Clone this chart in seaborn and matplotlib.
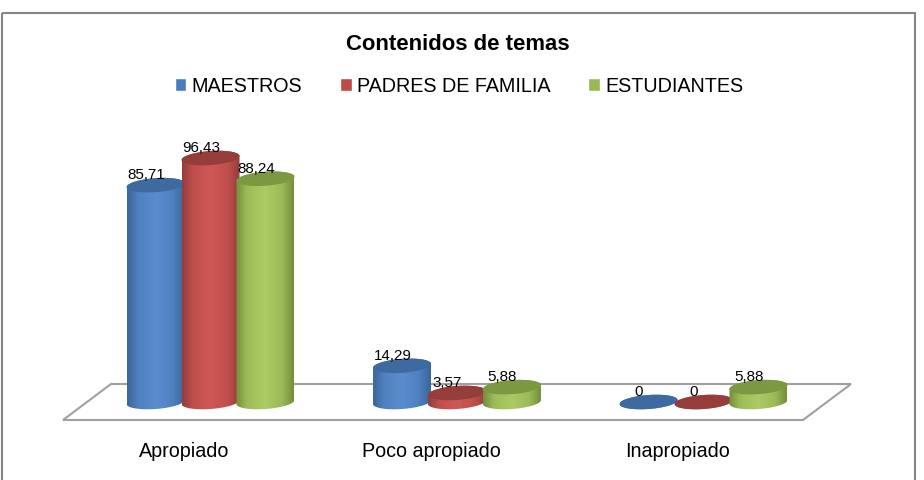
import numpy as np
import pandas as pd
import matplotlib
matplotlib.use("Agg")
import matplotlib.pyplot as plt
import seaborn as sns
from matplotlib.colors import LinearSegmentedColormap
from matplotlib.patches import Polygon
from matplotlib.transforms import ScaledTranslation

# Datos
categorias = ["Apropiado", "Poco apropiado", "Inapropiado"]
grupos = ["MAESTROS", "PADRES DE FAMILIA", "ESTUDIANTES"]
maestros = [85.71, 14.29, 0]
padres = [96.43, 3.57, 0]
estudiantes = [88.24, 5.88, 5.88]

# Colores: leyenda, cuerpo claro, cuerpo medio, borde oscuro, tapa
leyenda = ["#4a7ebb", "#be4b48", "#98b954"]
claros = ["#5b8ccf", "#cf5855", "#abcc62"]
medios = ["#4f80bf", "#bf4f4c", "#9bbb59"]
oscuros = ["#3a6699", "#933e3c", "#758f3d"]
tapas = ["#3e6a9f", "#953d3b", "#7c9840"]

W, H = 924, 480
PX_CAT = 246.5  # px por categoria
PX_VAL = 2.53  # px por unidad de valor
BASE_Y = 402
CENTRO_X = 210.5

df = pd.DataFrame({
    "categoria": categorias * 3,
    "grupo": np.repeat(grupos, 3),
    "valor": maestros + padres + estudiantes,
})

sns.set_theme(style="white")
plt.rcParams["font.family"] = ["Liberation Sans", "DejaVu Sans"]

fig = plt.figure(figsize=(W / 100, H / 100), dpi=100, facecolor="white")
ax = fig.add_axes([0, 1 - 421 / H, 1, 321 / H])
ax.patch.set_alpha(0)

sns.barplot(data=df, x="categoria", y="valor", hue="grupo", palette=leyenda,
            width=0.669, gap=0, saturation=1, ax=ax)


def a_fig(puntos):
    return [(x / W, 1 - y / H) for x, y in puntos]


# Marco y piso
fig.add_artist(Polygon(a_fig([(2, 13), (915, 13), (915, 483), (2, 483)]), closed=True,
                       transform=fig.transFigure, fill=False, ec="#858585", lw=1.5, zorder=-2))
fig.add_artist(Polygon(a_fig([(63, 420), (111, 384), (851, 384), (803, 420)]), closed=True,
                       transform=fig.transFigure, fc="white", ec="#a0a0a0", lw=1.5, zorder=-1))

a = 29 / PX_CAT
b = 7 / PX_VAL
incl = 2 / PX_VAL
orden = 3
for i, cont in enumerate(ax.containers):
    cmap = LinearSegmentedColormap.from_list(
        "cil", [(0, oscuros[i]), (0.18, medios[i]), (0.5, claros[i]), (0.8, medios[i]), (1, oscuros[i])])
    for barra in cont:
        cx = barra.get_x() + barra.get_width() / 2
        alto = barra.get_height()
        t1 = np.linspace(0, np.pi, 60)
        t2 = np.linspace(np.pi, 2 * np.pi, 60)
        xs = np.r_[cx + a * np.cos(t1), cx + a * np.cos(t2)]
        ys = np.r_[alto + b * np.sin(t1) + incl * np.cos(t1), b * np.sin(t2) + incl * np.cos(t2)]
        cuerpo = Polygon(np.c_[xs, ys], closed=True, fc="none", ec="none", transform=ax.transData)
        ax.add_patch(cuerpo)
        barra.set_clip_path(cuerpo)
        img = ax.imshow(np.linspace(0, 1, 64)[None, :], cmap=cmap, aspect="auto",
                        extent=(cx - a, cx + a, -b - incl, alto + b + incl), zorder=orden)
        img.set_clip_path(cuerpo)
        t = np.linspace(0, 2 * np.pi, 120)
        tapa = Polygon(np.c_[cx + a * np.cos(t), alto + b * np.sin(t) + incl * np.cos(t)], closed=True,
                       fc=tapas[i], ec="none", zorder=orden + 0.5)
        ax.add_patch(tapa)
        ax.annotate(f"{alto:.2f}".replace(".", ",") if alto else "0", (cx, alto), xytext=(-9.5 * 0.72, 10 * 0.72),
                    textcoords="offset points", ha="center", va="center", fontsize=10.9,
                    color="black", zorder=10, annotation_clip=False)
    orden += 1

ax.set_xlim(-CENTRO_X / PX_CAT, (W - CENTRO_X) / PX_CAT)
ax.set_ylim((BASE_Y - 421) / PX_VAL, (BASE_Y - 100) / PX_VAL)
ax.set_xlabel("")
ax.set_ylabel("")
ax.set_yticks([])
ax.tick_params(axis="x", length=0, pad=15, labelsize=14.2, colors="black")
# las etiquetas van corridas a la izquierda por la perspectiva del piso
corrimiento = ScaledTranslation(-26 / 100, 0, fig.dpi_scale_trans)
for etiqueta in ax.get_xticklabels():
    etiqueta.set_transform(etiqueta.get_transform() + corrimiento)
sns.despine(ax=ax, left=True, bottom=True)

sns.move_legend(ax, "center", bbox_to_anchor=(459 / W, 1 - 86 / H), bbox_transform=fig.transFigure,
                ncol=3, title=None, frameon=False, fontsize=14.2, handlelength=0.6, handleheight=0.6,
                handletextpad=0.25, columnspacing=1.93, labelcolor="black")

fig.suptitle("Contenidos de temas", x=458 / W, y=1 - 44 / H, va="center", fontsize=15.9,
             fontweight="bold", color="black")

fig.savefig("out.png", dpi=100)
